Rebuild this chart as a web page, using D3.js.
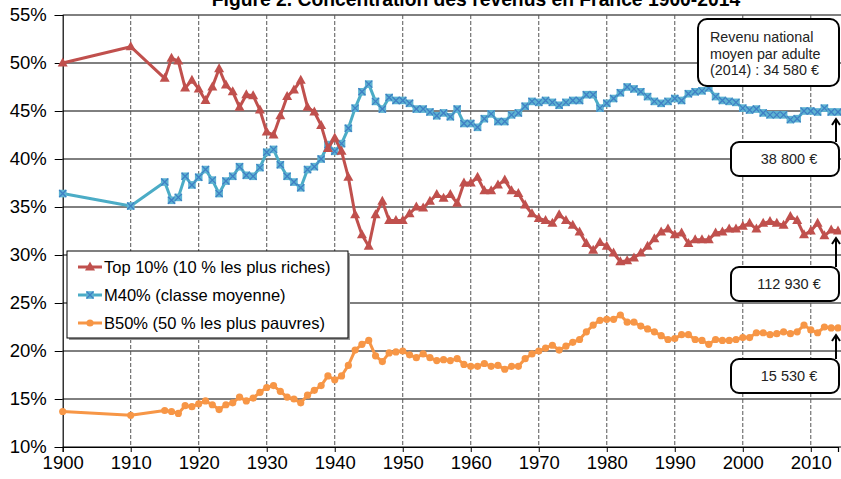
<!DOCTYPE html>
<html>
<head>
<meta charset="utf-8">
<script src="https://cdn.jsdelivr.net/npm/d3@7"></script>
<style>
  body { margin: 0; background: #fff; }
  text { font-family: "Liberation Sans", Arial, sans-serif; }
</style>
</head>
<body>
<div id="chart"></div>
<script>
// years: 1900, 1910, then every year 1915-2014
const years = [
  1900, 1910,
  1915, 1916, 1917, 1918, 1919,
  1920, 1921, 1922, 1923, 1924, 1925, 1926, 1927, 1928, 1929,
  1930, 1931, 1932, 1933, 1934, 1935, 1936, 1937, 1938, 1939,
  1940, 1941, 1942, 1943, 1944, 1945, 1946, 1947, 1948, 1949,
  1950, 1951, 1952, 1953, 1954, 1955, 1956, 1957, 1958, 1959,
  1960, 1961, 1962, 1963, 1964, 1965, 1966, 1967, 1968, 1969,
  1970, 1971, 1972, 1973, 1974, 1975, 1976, 1977, 1978, 1979,
  1980, 1981, 1982, 1983, 1984, 1985, 1986, 1987, 1988, 1989,
  1990, 1991, 1992, 1993, 1994, 1995, 1996, 1997, 1998, 1999,
  2000, 2001, 2002, 2003, 2004, 2005, 2006, 2007, 2008, 2009,
  2010, 2011, 2012, 2013, 2014
];

const top10 = [
  50.0, 51.7,
  48.4, 50.5, 50.2, 47.4, 48.2,
  47.3, 46.1, 47.5, 49.4, 47.7, 47.0, 45.4, 46.7, 46.6, 45.1,
  42.8, 42.5, 44.5, 46.5, 47.2, 48.2, 45.4, 44.9, 43.5, 41.1,
  42.2, 40.8, 38.1, 34.2, 32.1, 30.9, 34.2, 35.6, 33.6, 33.6,
  33.6, 34.3, 35.0, 34.9, 35.6, 36.3, 35.9, 36.3, 35.4, 37.5,
  37.5, 38.1, 36.7, 36.7, 37.3, 37.8, 36.7, 36.4, 35.2, 34.3,
  33.8, 33.6, 33.3, 34.2, 33.6, 33.1, 32.4, 31.2, 30.5, 31.3,
  30.9, 30.2, 29.3, 29.4, 29.7, 30.2, 30.9, 31.7, 32.4, 32.7,
  32.1, 32.3, 31.2, 31.6, 31.6, 31.6, 32.3, 32.4, 32.7, 32.7,
  33.0, 33.3, 32.7, 33.3, 33.5, 33.3, 33.1, 34.0, 33.6, 32.1,
  32.5, 33.3, 32.0, 32.6, 32.5
];

const m40 = [
  36.4, 35.1,
  37.6, 35.7, 36.0, 38.2, 37.3,
  38.1, 38.9, 37.8, 36.4, 37.7, 38.2, 39.2, 38.3, 38.2, 39.1,
  40.7, 41.0, 39.4, 38.2, 37.6, 37.0, 38.9, 39.2, 40.0, 41.5,
  40.8, 41.6, 43.2, 45.3, 47.0, 47.8, 46.0, 45.2, 46.4, 46.1,
  46.1, 45.8, 45.2, 45.2, 44.9, 44.5, 44.8, 44.4, 45.2, 43.7,
  43.7, 43.3, 44.2, 44.7, 43.9, 43.9, 44.6, 44.8, 45.5, 46.0,
  45.9, 46.1, 45.9, 45.6, 45.9, 46.1, 46.1, 46.7, 46.7, 45.3,
  45.8, 46.3, 46.9, 47.5, 47.3, 47.0, 46.5, 46.0, 45.8, 46.0,
  46.3, 46.1, 46.8, 47.0, 47.1, 47.4, 46.5, 46.1, 46.0, 45.9,
  45.3, 45.1, 45.2, 44.8, 44.6, 44.6, 44.6, 44.1, 44.2, 45.0,
  45.0, 44.9, 45.3, 44.9, 44.9
];

const b50 = [
  13.7, 13.3,
  13.8, 13.7, 13.5, 14.3, 14.2,
  14.5, 14.8, 14.4, 13.9, 14.4, 14.6, 15.2, 14.8, 15.1, 15.7,
  16.2, 16.4, 15.8, 15.2, 15.0, 14.6, 15.4, 15.9, 16.4, 17.4,
  17.0, 17.4, 18.5, 20.1, 20.7, 21.1, 19.5, 18.9, 19.8, 19.9,
  20.0, 19.6, 19.3, 19.7, 19.3, 19.0, 19.1, 19.0, 19.2, 18.6,
  18.4, 18.4, 18.7, 18.4, 18.5, 18.1, 18.4, 18.4, 19.2, 19.7,
  20.0, 20.3, 20.6, 20.1, 20.5, 20.9, 21.2, 22.0, 22.7, 23.2,
  23.3, 23.3, 23.75, 23.0, 23.0, 22.6, 22.3, 22.0, 21.6, 21.2,
  21.3, 21.7, 21.7, 21.2, 21.1, 20.7, 21.2, 21.1, 21.1, 21.2,
  21.4, 21.4, 21.9, 21.9, 21.7, 21.8, 22.0, 21.8, 22.0, 22.7,
  22.2, 21.9, 22.5, 22.4, 22.4
];

const seriesNames = ["Top 10% (10 % les plus riches)", "M40% (classe moyenne)", "B50% (50 % les plus pauvres)"];
const yTicks = [10, 15, 20, 25, 30, 35, 40, 45, 50, 55];
const xTicks = [1900, 1910, 1920, 1930, 1940, 1950, 1960, 1970, 1980, 1990, 2000, 2010];
const titleText = "Figure 2. Concentration des revenus en France 1900-2014";
const avgIncomeLines = ["Revenu national", "moyen par adulte", "(2014) : 34 580 €"];
const groupIncomes = ["38 800 €", "112 930 €", "15 530 €"];

const width = 841, height = 479;
const svg = d3.select("#chart").append("svg")
    .attr("width", width)
    .attr("height", height);

svg.append("rect").attr("width", width).attr("height", height).attr("fill", "#fff");

const x = d3.scaleLinear().domain([1900, 2014]).range([62.7, 838]);
const y = d3.scaleLinear().domain([10, 55]).range([447, 15]);

// horizontal grid
svg.append("g")
    .selectAll("line")
    .data(yTicks)
    .enter().append("line")
    .attr("x1", x(1900)).attr("x2", width)
    .attr("y1", d => y(d)).attr("y2", d => y(d))
    .attr("stroke", "#000").attr("stroke-width", 1);

// vertical dashed grid
svg.append("g")
    .selectAll("line")
    .data(xTicks.slice(1))
    .enter().append("line")
    .attr("x1", d => x(d)).attr("x2", d => x(d))
    .attr("y1", y(55)).attr("y2", y(10))
    .attr("stroke", "#555").attr("stroke-width", 1)
    .attr("stroke-dasharray", "4,2");

// axes
const yAxis = svg.append("g")
    .attr("transform", `translate(${x(1900)},0)`)
    .call(d3.axisLeft(y).tickValues(yTicks).tickFormat(d => d + "%").tickSize(8).tickPadding(8));
const xAxis = svg.append("g")
    .attr("transform", `translate(0,${y(10)})`)
    .call(d3.axisBottom(x).tickValues(xTicks).tickFormat(d3.format("d")).tickSize(5).tickPadding(4));
[yAxis, xAxis].forEach(a => {
    a.select(".domain").attr("stroke", "#000").attr("stroke-width", 1.2);
    a.selectAll(".tick line").attr("stroke", "#000");
    a.selectAll("text").attr("font-size", "18.5px").attr("fill", "#000")
        .attr("font-family", "Liberation Sans, Arial, sans-serif");
});

// title (cropped at the top like the original)
svg.append("text")
    .attr("x", 476).attr("y", 6)
    .attr("text-anchor", "middle")
    .attr("font-size", "19.3px")
    .attr("font-weight", "bold")
    .text(titleText);

const line = d3.line().x(d => x(d[0])).y(d => y(d[1]));

const series = [
    { name: seriesNames[0], values: top10, color: "#C0504D", marker: "tri" },
    { name: seriesNames[1], values: m40, color: "#4BACC6", marker: "sq" },
    { name: seriesNames[2], values: b50, color: "#F79646", marker: "dot" }
];

function drawMarker(g, type, color) {
    if (type === "tri") {
        g.append("path").attr("d", "M0,-5.5L5,3.5L-5,3.5Z").attr("fill", color);
    } else if (type === "sq") {
        g.append("rect").attr("x", -3.8).attr("y", -3.8).attr("width", 7.6).attr("height", 7.6)
            .attr("fill", "#5DB4D2");
        g.append("path").attr("d", "M-3.5,-3.5L3.5,3.5M3.5,-3.5L-3.5,3.5")
            .attr("stroke", "#3F7FC4").attr("stroke-width", 1.3);
    } else {
        g.append("circle").attr("r", 3.6).attr("fill", color);
    }
}

// draw in reverse so Top 10% ends on top
series.slice().reverse().forEach(s => {
    const pts = years.map((yr, i) => [yr, s.values[i]]);
    svg.append("path")
        .datum(pts)
        .attr("fill", "none")
        .attr("stroke", s.color)
        .attr("stroke-width", 3)
        .attr("stroke-linejoin", "round")
        .attr("d", line);
    svg.append("g").selectAll("g")
        .data(pts)
        .enter().append("g")
        .attr("transform", d => `translate(${x(d[0])},${y(d[1])})`)
        .each(function () { drawMarker(d3.select(this), s.marker, s.color); });
});

// legend
const legend = svg.append("g").attr("transform", "translate(67,251)");
legend.append("rect").attr("x", 2).attr("y", 2).attr("width", 281).attr("height", 87).attr("fill", "#999");
legend.append("rect").attr("width", 281).attr("height", 87).attr("fill", "#fff")
    .attr("stroke", "#000").attr("stroke-width", 1);
series.forEach((s, i) => {
    const row = legend.append("g").attr("transform", `translate(0,${16 + i * 28})`);
    row.append("line").attr("x1", 11).attr("x2", 35).attr("y1", 0).attr("y2", 0)
        .attr("stroke", s.color).attr("stroke-width", 3);
    drawMarker(row.append("g").attr("transform", "translate(23,0)"), s.marker, s.color);
    row.append("text").attr("x", 37).attr("y", 6)
        .attr("font-size", "16.5px")
        .text(s.name);
});

// annotation boxes
const avgBox = svg.append("g");
avgBox.append("rect").attr("x", 698).attr("y", 19).attr("width", 141).attr("height", 67)
    .attr("rx", 9).attr("fill", "#fff").attr("stroke", "#000").attr("stroke-width", 2);
avgBox.selectAll("text")
    .data(avgIncomeLines)
    .enter().append("text")
    .attr("x", 710).attr("y", (d, i) => 42 + i * 16.5)
    .attr("font-size", "14.3px")
    .attr("fill", "#222")
    .text(d => d);

const boxTops = [142, 267, 359];
const lastVals = [m40[m40.length - 1], top10[top10.length - 1], b50[b50.length - 1]];
const ax = x(2014) - 2;
groupIncomes.forEach((label, i) => {
    const g = svg.append("g");
    const top = boxTops[i];
    const tip = y(lastVals[i]) + 7;
    g.append("path")
        .attr("d", `M${ax},${top}L${ax},${tip}M${ax - 4},${tip + 6}L${ax},${tip}L${ax + 4},${tip + 6}`)
        .attr("fill", "none").attr("stroke", "#000").attr("stroke-width", 2);
    g.append("rect").attr("x", 731).attr("y", top).attr("width", 108).attr("height", 34)
        .attr("rx", 8).attr("fill", "#fff").attr("stroke", "#000").attr("stroke-width", 2);
    g.append("text").attr("x", 789).attr("y", top + 22)
        .attr("text-anchor", "middle")
        .attr("font-size", "14.5px")
        .attr("fill", "#222")
        .text(label);
});
</script>
</body>
</html>
